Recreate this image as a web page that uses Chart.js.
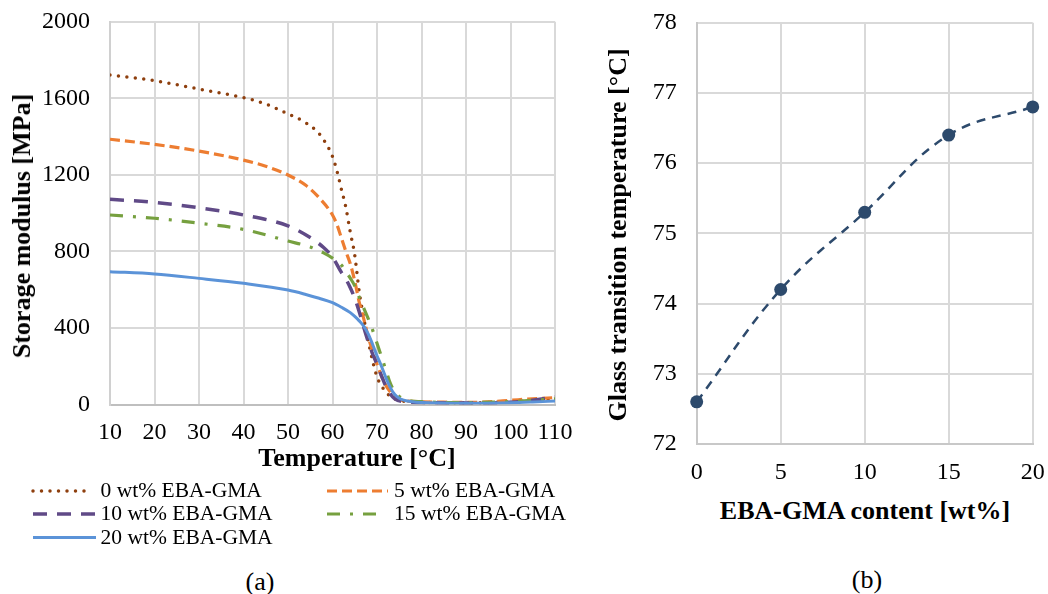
<!DOCTYPE html>
<html>
<head>
<meta charset="utf-8">
<script src="https://cdn.jsdelivr.net/npm/chart.js@4.4.1/dist/chart.umd.min.js"></script>
<style>
html,body{margin:0;padding:0;background:#fff;}
#wrap{position:relative;width:1048px;height:594px;overflow:hidden;background:#fff;
  font-family:'Liberation Serif','Times New Roman',serif;color:#000;}
canvas{position:absolute;}
.t{position:absolute;white-space:nowrap;line-height:1;transform:translate(-50%,-50%);}
.b{font-weight:bold;font-size:26px;}
.rot{transform:translate(-50%,-50%) rotate(-90deg);}
.cap{font-size:26px;}
.lg{position:absolute;white-space:nowrap;font-size:21.5px;line-height:1;transform:translateY(-50%);}
svg{position:absolute;left:0;top:0;overflow:visible;}
</style>
</head>
<body>
<div id="wrap">
  <canvas id="c1" width="580" height="450" style="left:0;top:0"></canvas>
  <canvas id="c2" width="458" height="490" style="left:590px;top:0"></canvas>
  <div class="t b" style="left:357px;top:458px">Temperature [°C]</div>
  <div class="t b rot" style="left:22px;top:226px">Storage modulus [MPa]</div>
  <div class="t b" style="left:865px;top:511px">EBA-GMA content [wt%]</div>
  <div class="t b rot" style="left:618px;top:235px">Glass transition temperature [°C]</div>
  <div class="t cap" style="left:260px;top:582px">(a)</div>
  <div class="t cap" style="left:867px;top:580px">(b)</div>
  <svg id="lgsvg" width="1048" height="594"></svg>
</div>
<script>
// ---------- DATA ----------
const SERIES_NAMES = ['0 wt% EBA-GMA','5 wt% EBA-GMA','10 wt% EBA-GMA','15 wt% EBA-GMA','20 wt% EBA-GMA'];

const T_0  = [10,20,30,40,45,50,54,57,59,60,61,62,63,64,65,66,67,68,69,70,71,72,73,75,78,80,85,90,95,100,105,110];
const E_0  = [1721,1692,1648,1603,1570,1518,1472,1415,1345,1295,1220,1124,1030,900,780,590,455,335,230,145,98,65,42,22,14,12,10,9,10,14,20,28];

const T_5  = [10,20,30,40,45,50,54,57,60,61,62,63,64,65,66,67,68,69,70,71,72,73,74,76,80,85,90,95,100,105,110];
const E_5  = [1386,1359,1324,1277,1245,1199,1145,1080,990,940,870,800,735,645,535,450,355,280,210,150,100,65,38,20,14,12,11,14,22,30,36];

const T_10 = [10,20,30,40,50,55,58,60,62,63,64,65,66,67,68,69,70,71,72,73,74,76,80,90,100,105,110];
const E_10 = [1072,1056,1028,990,933,872,820,770,690,655,610,555,485,405,330,265,210,150,95,55,30,15,10,8,12,22,40];

const T_15 = [10,20,30,40,50,55,58,60,61,62,63,64,65,66,67,68,69,70,71,72,73,74,75,77,80,90,100,105,110];
const E_15 = [990,973,947,915,854,823,792,765,748,728,695,660,620,560,505,450,390,320,250,180,110,65,42,22,15,10,15,22,30];

const T_20 = [10,20,30,40,50,54,57,60,62,64,65,66,67,68,69,70,71,72,73,74,75,76,78,80,90,100,105,110];
const E_20 = [694,682,659,633,598,575,555,532,508,480,460,437,410,370,315,255,200,140,88,52,33,23,14,10,6,9,13,18];

const TEMP_TICKS = [10,20,30,40,50,60,70,80,90,100,110];
const MOD_TICKS  = [0,400,800,1200,1600,2000];

const CONTENT    = [0,5,10,15,20];
const TG         = [72.6,74.2,75.3,76.4,76.8];
const CONTENT_TICKS = [0,5,10,15,20];
const TG_TICKS   = [72,73,74,75,76,77,78];

// ---------- STYLES ----------
const STYLES = [
  {color:'#8E3F0E', width:3.5, dash:[0,8.5], cap:'round'},
  {color:'#ED7D31', width:3.2, dash:[10,5], cap:'butt'},
  {color:'#604A87', width:3.5, dash:[14,10],  cap:'butt'},
  {color:'#76A03F', width:3.2, dash:[13,10,3,10], cap:'butt'},
  {color:'#5B93D8', width:3,   dash:[],      cap:'butt'}
];

Chart.defaults.font.family = "'Liberation Serif','Times New Roman',serif";
Chart.defaults.color = '#000';
Chart.defaults.animation = false;

const TS = [T_0,T_5,T_10,T_15,T_20];
const ES = [E_0,E_5,E_10,E_15,E_20];

const datasets1 = SERIES_NAMES.map((name,i)=>({
  label:name,
  data: TS[i].map((t,k)=>({x:t,y:ES[i][k]})),
  borderColor: STYLES[i].color,
  backgroundColor: STYLES[i].color,
  borderWidth: STYLES[i].width,
  borderDash: STYLES[i].dash,
  borderCapStyle: STYLES[i].cap,
  borderJoinStyle: 'round',
  pointRadius: 0,
  pointHoverRadius: 0,
  cubicInterpolationMode: 'monotone',
  fill: false,
  order: 4 - i
}));

function ticksFrom(arr){ return s => { s.ticks = arr.map(v=>({value:v})); }; }
function fixX(h){ return s => { s.height = h; s.paddingLeft = 0; s.paddingRight = 0; }; }
function fixY(w){ return s => { s.width = w; s.paddingTop = 0; s.paddingBottom = 0; }; }

const gridOpts = {color:'#d9d9d9', lineWidth:2, drawTicks:false};
const tickFont = {size:24};

new Chart(document.getElementById('c1'), {
  type: 'line',
  data: {datasets: datasets1},
  options: {
    responsive: false,
    devicePixelRatio: 1,
    layout: {autoPadding: false, padding: {top: 21.7, right: 25, left: 0, bottom: 0}},
    plugins: {legend: {display:false}, tooltip: {enabled:false}},
    events: [],
    scales: {
      x: {
        type: 'linear', min: 10, max: 110,
        afterBuildTicks: ticksFrom(TEMP_TICKS),
        afterFit: fixX(45.5),
        ticks: {padding: 14, font:tickFont, color:'#000', maxRotation:0, autoSkip:false, callback: v => String(v)},
        grid: gridOpts,
        border: {color:'#bfbfbf', width:2}
      },
      y: {
        type: 'linear', min: 0, max: 2000,
        afterBuildTicks: ticksFrom(MOD_TICKS),
        afterFit: fixY(110),
        ticks: {padding: 20, font:tickFont, color:'#000', callback: v => String(v)},
        grid: gridOpts,
        border: {color:'#d0d0d0', width:2}
      }
    }
  }
});

new Chart(document.getElementById('c2'), {
  type: 'line',
  data: {datasets: [{
    label: 'Tg',
    data: CONTENT.map((c,k)=>({x:c,y:TG[k]})),
    borderColor: '#2D4A6C',
    backgroundColor: '#2D4A6C',
    borderWidth: 2.5,
    borderDash: [9,7],
    tension: 0.4,
    pointRadius: 6.5,
    pointHoverRadius: 6.5,
    pointBorderWidth: 0,
    pointBackgroundColor: '#2D4A6C',
    clip: false,
    fill: false
  }]},
  options: {
    responsive: false,
    devicePixelRatio: 1,
    layout: {autoPadding: false, padding: {top: 22.7, right: 15.3, left: 0, bottom: 0}},
    plugins: {legend: {display:false}, tooltip: {enabled:false}},
    events: [],
    scales: {
      x: {
        type: 'linear', min: 0, max: 20,
        afterBuildTicks: ticksFrom(CONTENT_TICKS),
        afterFit: fixX(46),
        ticks: {padding: 14, font:tickFont, color:'#000', maxRotation:0, autoSkip:false, callback: v => String(v)},
        grid: gridOpts,
        border: {color:'#c8c8c8', width:2}
      },
      y: {
        type: 'linear', min: 72, max: 78,
        afterBuildTicks: ticksFrom(TG_TICKS),
        afterFit: fixY(106.7),
        ticks: {padding: 20, font:tickFont, color:'#000', callback: v => String(v)},
        grid: gridOpts,
        border: {color:'#c8c8c8', width:2}
      }
    }
  }
});

// ---------- LEGEND (left chart) ----------
const LEG_POS = [
  {x0:33,  x1:89,  tx:100.6, y:491},
  {x0:327, x1:388, tx:394,   y:491},
  {x0:33,  x1:96,  tx:100.6, y:514},
  {x0:327, x1:379, tx:394,   y:514},
  {x0:33,  x1:96,  tx:100.6, y:537.5}
];
const svg = document.getElementById('lgsvg');
const wrap = document.getElementById('wrap');
datasets1.forEach((ds,i)=>{
  const p = LEG_POS[i];
  const ln = document.createElementNS('http://www.w3.org/2000/svg','line');
  ln.setAttribute('x1',p.x0); ln.setAttribute('x2',p.x1);
  ln.setAttribute('y1',p.y); ln.setAttribute('y2',p.y);
  ln.setAttribute('stroke',ds.borderColor);
  ln.setAttribute('stroke-width',ds.borderWidth);
  ln.setAttribute('stroke-linecap',ds.borderCapStyle);
  if (ds.borderDash.length) ln.setAttribute('stroke-dasharray',ds.borderDash.join(' '));
  svg.appendChild(ln);
  const d = document.createElement('div');
  d.className = 'lg';
  d.style.left = p.tx + 'px';
  d.style.top = p.y + 'px';
  d.textContent = ds.label;
  wrap.appendChild(d);
});
</script>
</body>
</html>
